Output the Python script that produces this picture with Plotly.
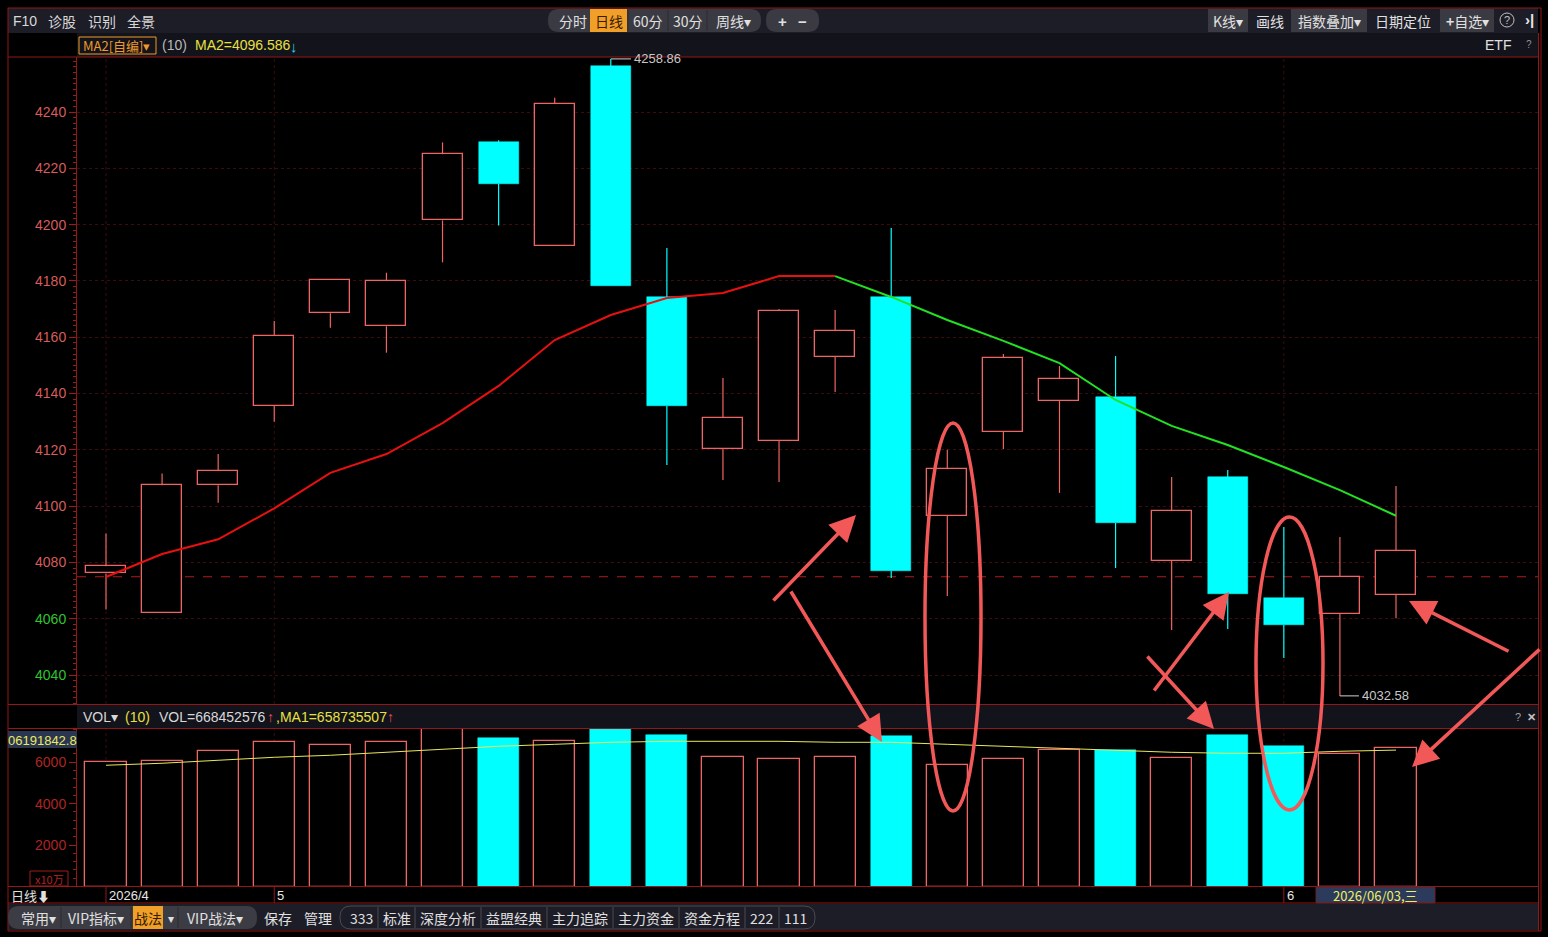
import plotly.graph_objects as go

W, H = 1548, 937

# ---------------- data ----------------
dates = ["2026-04-28", "2026-04-29", "2026-04-30", "2026-05-06", "2026-05-07", "2026-05-08",
         "2026-05-11", "2026-05-12", "2026-05-13", "2026-05-14", "2026-05-15",
         "2026-05-18", "2026-05-19", "2026-05-20", "2026-05-21", "2026-05-22",
         "2026-05-25", "2026-05-26", "2026-05-27", "2026-05-28", "2026-05-29",
         "2026-06-01", "2026-06-02", "2026-06-03"]
opens = [4076.1, 4061.9, 4107.4, 4135.6, 4168.5, 4163.9, 4201.5, 4229.3, 4192.3, 4256.3, 4174.3, 4120.3,
         4123.1, 4153.0, 4174.3, 4096.5, 4126.3, 4137.3, 4138.8, 4080.5, 4110.3, 4067.4, 4061.7, 4068.4]
highs = [4090.3, 4111.6, 4118.5, 4165.8, 4180.3, 4182.9, 4229.2, 4230.0, 4245.1, 4258.86, 4191.7, 4145.5,
         4170.0, 4169.7, 4198.8, 4120.0, 4154.0, 4149.8, 4153.3, 4110.3, 4112.8, 4092.6, 4089.0, 4107.1]
lows = [4063.3, 4061.9, 4101.2, 4130.0, 4163.4, 4154.5, 4186.6, 4199.7, 4192.3, 4178.2, 4114.6, 4109.3,
        4108.6, 4140.5, 4074.5, 4068.1, 4120.3, 4104.7, 4078.0, 4056.0, 4056.3, 4046.0, 4032.58, 4060.2]
closes = [4078.6, 4107.4, 4112.5, 4160.4, 4180.3, 4180.0, 4225.0, 4214.5, 4242.8, 4178.2, 4135.6, 4131.3,
          4169.3, 4162.2, 4077.0, 4113.2, 4152.6, 4145.2, 4094.0, 4098.3, 4068.8, 4057.8, 4074.8, 4084.1]
ma2 = [4074.8, 4083.0, 4088.2, 4099.2, 4111.8, 4118.5, 4129.5, 4142.7, 4159.0, 4167.9, 4173.9, 4175.7,
       4181.7, 4181.7, 4174.3, 4166.1, 4158.7, 4150.8, 4137.7, 4128.5, 4121.7, 4113.9, 4105.7, 4096.586]
# volume in units of 10^5
volume = [6000, 6048, 6530, 6964, 6819, 6964, 7590, 7157, 7012, 7606.19, 7301, 6241,
          6145, 6241, 7253, 5855, 6145, 6578, 6578, 6193, 7301, 6771, 6386, 6684.5]
vol_ma = [5855, 5952, 6096, 6241, 6337, 6482, 6627, 6771, 6867, 6964, 7012, 7012,
          7012, 6964, 6964, 6867, 6771, 6675, 6578, 6482, 6434, 6434, 6530, 6587.4]
ref_close = 4074.9
price_ticks = [4040, 4060, 4080, 4100, 4120, 4140, 4160, 4180, 4200, 4220, 4240]
vol_ticks = [2000, 4000, 6000]
vol_top_label = "06191842.8"

# ---------------- style ----------------
RED = "#ef6464"
CYAN = "#00ffff"
FR = "#941616"
TB = "#1d1d27"
ROW = "#13131b"
CJK = "Noto Sans CJK SC, Liberation Sans, sans-serif"
NUM = "Liberation Sans, Arial, sans-serif"
ANN = "#f25858"

n = len(dates)
xs = list(range(n))
step = (1396 - 106) / 23.0
x_lo = -(106 - 77) / step
x_hi = (n - 1) + (1538 - 1396) / step
bw = 40 / step

def px(x):
    return x / W

def py(y):
    return 1 - y / H

fig = go.Figure()

# ---------- candlestick wicks ----------
for is_up, col in [(True, RED), (False, CYAN)]:
    wx, wy = [], []
    for i in xs:
        up = closes[i] >= opens[i]
        if up != is_up:
            continue
        top, bot = max(opens[i], closes[i]), min(opens[i], closes[i])
        if highs[i] > top:
            wx += [i, i, None]; wy += [top, highs[i], None]
        if lows[i] < bot:
            wx += [i, i, None]; wy += [lows[i], bot, None]
    fig.add_trace(go.Scatter(x=wx, y=wy, mode="lines", line=dict(color=col, width=1.2),
                             hoverinfo="skip", showlegend=False, xaxis="x", yaxis="y"))

# ---------- candle bodies ----------
for is_up in [True, False]:
    bx, bb, bh = [], [], []
    for i in xs:
        up = closes[i] >= opens[i]
        if up != is_up:
            continue
        bx.append(i)
        bb.append(min(opens[i], closes[i]))
        bh.append(max(abs(closes[i] - opens[i]), 0.4))
    fig.add_trace(go.Bar(x=bx, y=bh, base=bb, width=bw,
                         marker=dict(color="#000000" if is_up else CYAN,
                                     line=dict(color=RED if is_up else CYAN, width=1.3 if is_up else 0.5)),
                         showlegend=False, hoverinfo="skip", xaxis="x", yaxis="y"))

# ---------- MA line, red when rising, green when falling ----------
seg_start = 0
for i in range(1, n):
    rising = ma2[i] >= ma2[i - 1]
    nxt_rising = (ma2[i + 1] >= ma2[i]) if i + 1 < n else None
    if nxt_rising is None or nxt_rising != rising:
        fig.add_trace(go.Scatter(x=xs[seg_start:i + 1], y=ma2[seg_start:i + 1], mode="lines",
                                 line=dict(color="#e81010" if rising else "#22e022", width=2),
                                 hoverinfo="skip", showlegend=False, xaxis="x", yaxis="y"))
        seg_start = i

# ---------- volume ----------
for is_up in [True, False]:
    vx, vy = [], []
    for i in xs:
        if (closes[i] >= opens[i]) != is_up:
            continue
        vx.append(i); vy.append(volume[i])
    fig.add_trace(go.Bar(x=vx, y=vy, width=bw + 0.02,
                         marker=dict(color="#000000" if is_up else CYAN,
                                     line=dict(color=RED if is_up else CYAN, width=1.3 if is_up else 0.5)),
                         showlegend=False, hoverinfo="skip", xaxis="x2", yaxis="y2"))
fig.add_trace(go.Scatter(x=xs, y=vol_ma, mode="lines", line=dict(color="#e8e85a", width=1),
                         hoverinfo="skip", showlegend=False, xaxis="x2", yaxis="y2"))

# ---------------- shapes & annotations ----------------
shapes, anns = [], []

def rect(x0, y0, x1, y1, fill, line=None, lw=0, layer="above"):
    shapes.append(dict(type="rect", xref="paper", yref="paper", x0=px(x0), x1=px(x1),
                       y0=py(y1), y1=py(y0), fillcolor=fill,
                       line=dict(width=lw, color=line or fill), layer=layer))

def hline(x0, x1, y, color=FR, w=1):
    shapes.append(dict(type="line", xref="paper", yref="paper", x0=px(x0), x1=px(x1),
                       y0=py(y), y1=py(y), line=dict(color=color, width=w), layer="above"))

def vline(x, y0, y1, color=FR, w=1):
    shapes.append(dict(type="line", xref="paper", yref="paper", x0=px(x), x1=px(x),
                       y0=py(y0), y1=py(y1), line=dict(color=color, width=w), layer="above"))

def rrect(x0, y0, x1, y1, r, fill, line=None, lw=0):
    pts = [("M", x0 + r, y0), ("L", x1 - r, y0), ("Q", x1, y0, x1, y0 + r), ("L", x1, y1 - r),
           ("Q", x1, y1, x1 - r, y1), ("L", x0 + r, y1), ("Q", x0, y1, x0, y1 - r),
           ("L", x0, y0 + r), ("Q", x0, y0, x0 + r, y0)]
    p = ""
    for t in pts:
        cmd = t[0]
        coords = t[1:]
        seg = []
        for k in range(0, len(coords), 2):
            seg.append(f"{px(coords[k]):.6f},{py(coords[k + 1]):.6f}")
        p += cmd + " ".join(seg) + " "
    p += "Z"
    shapes.append(dict(type="path", xref="paper", yref="paper", path=p, fillcolor=fill,
                       line=dict(width=lw, color=line or fill), layer="above"))

def txt(x, y, s, color="#d8d8d8", size=13, anchor="left", fam=CJK, bg=None):
    anns.append(dict(xref="paper", yref="paper", x=px(x), y=py(y), text=s, showarrow=False,
                     xanchor=anchor, yanchor="middle", font=dict(color=color, size=size, family=fam),
                     bgcolor=bg, borderpad=0))

# backgrounds of bars
rect(8, 8, 1538, 33, TB)
rect(77, 33, 1538, 57, ROW)
rect(77, 705, 1538, 728, ROW)
rect(8, 904, 1538, 930, TB)

# frame lines
hline(8, 1541, 8)
hline(8, 1538, 57)
hline(8, 1538, 704.5)
hline(8, 1538, 728.5)
hline(8, 1538, 886.5)
hline(8, 1538, 903)
hline(8, 1541, 931)
vline(8, 8, 931)
vline(1538.5, 33, 931)
vline(1541, 8, 931)

# top toolbar
txt(12, 21, "F10", "#d8d8d8", 14, fam=NUM)
txt(47, 21, "诊股", "#d8d8d8", 14)
txt(87, 21, "识别", "#d8d8d8", 14)
txt(126, 21, "全景", "#d8d8d8", 14)
rrect(548, 9, 761, 32, 11, "#3a3a42")
rect(590, 9, 627, 32, "#f0a028")
for sx in [628, 668, 707]:
    vline(sx, 10, 31, "#2a2a30")
for cx, s, c in [(573, "分时", "#e0e0e0"), (609, "日线", "#3a1a00"), (648, "60分", "#e0e0e0"),
                 (688, "30分", "#e0e0e0"), (733, "周线▾", "#e0e0e0")]:
    txt(cx, 21, s, c, 14, anchor="center")
rrect(766, 9, 819, 32, 11, "#3a3a42")
txt(782, 21, "<b>+</b>", "#e0e0e0", 15, anchor="center", fam=NUM)
txt(803, 21, "<b>−</b>", "#e0e0e0", 15, anchor="center", fam=NUM)
rect(1208, 9, 1248, 32, "#3a3a42")
txt(1228, 21, "K线▾", "#e0e0e0", 14, anchor="center")
txt(1270, 21, "画线", "#e0e0e0", 14, anchor="center")
rect(1291, 9, 1367, 32, "#3a3a42")
txt(1329, 21, "指数叠加▾", "#e0e0e0", 14, anchor="center")
txt(1403, 21, "日期定位", "#e0e0e0", 14, anchor="center")
rect(1440, 9, 1494, 32, "#3a3a42")
txt(1467, 21, "<b>+</b>自选▾", "#e0e0e0", 14, anchor="center")
shapes.append(dict(type="circle", xref="paper", yref="paper", x0=px(1500), x1=px(1514),
                   y0=py(27), y1=py(13), line=dict(color="#c0c0c0", width=1), layer="above"))
txt(1507, 20, "?", "#c0c0c0", 11, anchor="center", fam=NUM)
txt(1529, 20, "<b>›|</b>", "#e8e8e8", 15, anchor="center", fam=NUM)

# info row
rect(79, 37, 156, 54, "rgba(0,0,0,0)", "#f09a28", 1)
txt(82, 45.5, "MA2[自编]▾", "#f09a28", 13)
txt(161, 45.5, "(10)", "#b8b8b8", 14, fam=NUM)
txt(194, 45.5, "MA2=4096.586", "#e8e040", 14, fam=NUM)
txt(289, 46, "<b>↓</b>", "#20d8e8", 15, fam=NUM)
txt(1498, 45, "ETF", "#e0e0e0", 14, anchor="center", fam=NUM)
txt(1529, 45, "?", "#909090", 10, anchor="center", fam=NUM)

# volume header row
txt(82, 716.5, "VOL▾", "#d8d8d8", 14, fam=NUM)
txt(124, 716.5, "(10)", "#e8e040", 14, fam=NUM)
txt(158, 716.5, "VOL=668452576", "#d8d8d8", 14, fam=NUM)
txt(266, 716.5, "<b>↑</b>", "#f05050", 14, fam=NUM)
txt(275, 716.5, ",MA1=658735507", "#e8e040", 14, fam=NUM)
txt(386, 716.5, "<b>↑</b>", "#f05050", 14, fam=NUM)
txt(1518, 716.5, "?", "#a0a0a0", 11, anchor="center", fam=NUM)
txt(1531, 716.5, "<b>✕</b>", "#c0c0c0", 11, anchor="center", fam=NUM)

# volume axis side labels
rect(8, 731, 77, 748, "#2a3552")
txt(7, 740, vol_top_label, "#eaea60", 13, fam=NUM)
rect(30, 871, 68, 886, "rgba(0,0,0,0)", "#a01c1c", 1)
txt(49, 878.5, "x10万", "#b02424", 11, anchor="center")

# date row
txt(10, 895, "日线⬇", "#e0e0e0", 13)
prev_m = None
for i, d in enumerate(dates):
    y_, m_ = d[:4], int(d[5:7])
    if m_ != prev_m:
        lab = f"{y_}/{m_}" if prev_m is None else f"{m_}"
        anns.append(dict(xref="x", yref="paper", x=i, y=py(895), text=lab, showarrow=False,
                         xanchor="left", yanchor="middle", xshift=1,
                         font=dict(color="#e8e8e8", size=13, family=NUM)))
        shapes.append(dict(type="line", xref="x", yref="paper", x0=i, x1=i, y0=py(903), y1=py(887),
                           line=dict(color=FR, width=1), layer="above"))
        for (ya, yb) in [(58, 704), (729, 886)]:
            shapes.append(dict(type="line", xref="x", yref="paper", x0=i, x1=i, y0=py(yb), y1=py(ya),
                               line=dict(color="#3a0d0d", width=1, dash="dot"), layer="below"))
        prev_m = m_
rect(1316, 887, 1435, 903, "#2c3a5c", "#6a2020", 1)
last = dates[-1].replace("-", "/")
txt(1375, 895, f"{last},三", "#f0f060", 13, anchor="center")

# bottom toolbar
rrect(8, 906, 257, 929, 11, "#3c3c44")
rect(133, 906, 163, 929, "#f0a028")
for sx in [61, 131, 178]:
    vline(sx, 907, 928, "#2a2a30")
txt(38, 917.5, "常用▾", "#e0e0e0", 14, anchor="center")
txt(96, 917.5, "VIP指标▾", "#e0e0e0", 14, anchor="center")
txt(148, 917.5, "战法", "#3a1a00", 14, anchor="center")
txt(171, 917.5, "▾", "#e0e0e0", 12, anchor="center")
txt(215, 917.5, "VIP战法▾", "#e0e0e0", 14, anchor="center")
txt(278, 917.5, "保存", "#e0e0e0", 14, anchor="center")
txt(318, 917.5, "管理", "#e0e0e0", 14, anchor="center")
rrect(340, 906, 815, 929, 11, "rgba(0,0,0,0)", "#4a4a52", 1)
items = [(361, "333"), (397, "标准"), (448, "深度分析"), (514, "益盟经典"), (580, "主力追踪"),
         (646, "主力资金"), (712, "资金方程"), (762, "222"), (795, "111")]
for cx, s in items:
    txt(cx, 918, s, "#e0e0e0", 14, anchor="center")
for sx in [378, 415, 481, 547, 613, 679, 745, 779]:
    vline(sx, 907, 928, "#4a4a52")

# reference close line
shapes.append(dict(type="line", xref="paper", yref="y", x0=px(77), x1=px(1538), y0=ref_close, y1=ref_close,
                   line=dict(color="#b01c1c", width=1, dash="dash"), layer="below"))

# high / low labels
hi = max(range(n), key=lambda i: highs[i])
lo = min(range(n), key=lambda i: lows[i])
shapes.append(dict(type="line", xref="x", yref="y", x0=hi, x1=hi + 0.36, y0=highs[hi], y1=highs[hi],
                   line=dict(color="#d0d0d0", width=1), layer="above"))
anns.append(dict(xref="x", yref="y", x=hi + 0.37, y=highs[hi], text=f"{highs[hi]:.2f}", showarrow=False,
                 xanchor="left", yanchor="middle", font=dict(color="#c8c8c8", size=13, family=NUM)))
shapes.append(dict(type="line", xref="x", yref="y", x0=lo, x1=lo + 0.34, y0=lows[lo], y1=lows[lo],
                   line=dict(color="#d0d0d0", width=1), layer="above"))
anns.append(dict(xref="x", yref="y", x=lo + 0.35, y=lows[lo], text=f"{lows[lo]:.2f}", showarrow=False,
                 xanchor="left", yanchor="middle", font=dict(color="#c8c8c8", size=13, family=NUM)))

# hand-drawn red annotations: ellipses and arrows
for (x0, y0, x1, y1) in [(925, 423, 981, 811), (1256, 517, 1323, 810)]:
    shapes.append(dict(type="circle", xref="paper", yref="paper", x0=px(x0), x1=px(x1),
                       y0=py(y1), y1=py(y0), line=dict(color=ANN, width=3.5), layer="above"))
for (hx, hy, tx, ty) in [(856, 515, 772, 602), (882, 742, 790, 590), (1214, 729, 1146, 655),
                         (1229, 592, 1153, 692), (1409, 601, 1510, 652), (1412, 767, 1541, 648)]:
    anns.append(dict(xref="paper", yref="paper", x=px(hx), y=py(hy), ax=tx - hx, ay=ty - hy,
                     axref="pixel", ayref="pixel", text="", showarrow=True, arrowhead=2,
                     arrowsize=1.5, arrowwidth=3.5, arrowcolor=ANN, standoff=0, startstandoff=0))

price_text = [f'<span style="color:{"#d85c5c" if v > ref_close else "#2fc42f"}">{v}</span>' for v in price_ticks]

fig.update_layout(
    width=W, height=H, margin=dict(l=0, r=0, t=0, b=0),
    paper_bgcolor="#000000", plot_bgcolor="#000000",
    barmode="overlay", bargap=0, showlegend=False,
    shapes=shapes, annotations=anns,
    xaxis=dict(domain=[px(77), px(1538)], range=[x_lo, x_hi], visible=False, anchor="y"),
    xaxis2=dict(domain=[px(77), px(1538)], range=[x_lo, x_hi], visible=False, anchor="y2"),
    yaxis=dict(domain=[py(704), py(57)], range=[4029.7, 4259.54], anchor="x",
               tickvals=price_ticks, ticktext=price_text, ticks="outside", ticklen=7, tickcolor="#a01818",
               tickfont=dict(size=14, family=NUM), showline=True, linecolor=FR, linewidth=1,
               showgrid=True, gridcolor="#3c0d0d", griddash="dot", gridwidth=1, zeroline=False,
               minor=dict(dtick=2, ticks="outside", ticklen=3, tickcolor="#a01818", showgrid=False)),
    yaxis2=dict(domain=[py(886.5), py(729)], range=[0, 7606.19], anchor="x2",
                tickvals=vol_ticks, ticktext=[str(v) for v in vol_ticks], ticks="outside", ticklen=7,
                tickcolor="#a01818", tickfont=dict(size=14, family=NUM, color="#b02424"),
                showline=True, linecolor=FR, linewidth=1, showgrid=False, zeroline=False,
                minor=dict(dtick=400, ticks="outside", ticklen=3, tickcolor="#a01818", showgrid=False)),
)

fig.write_html("out.html")
